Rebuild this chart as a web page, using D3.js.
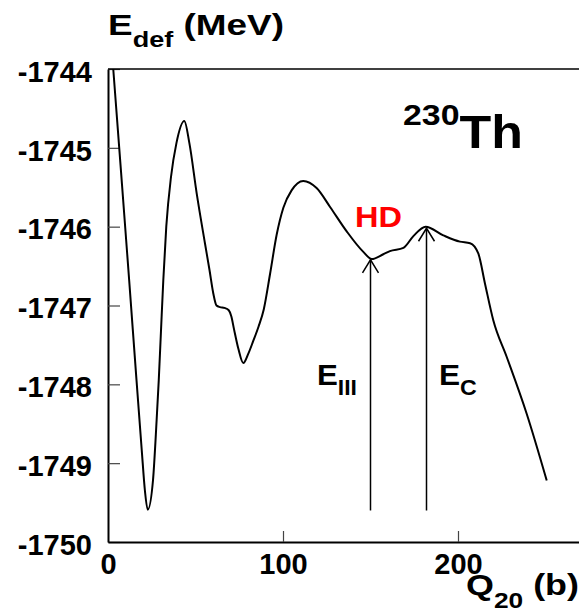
<!DOCTYPE html>
<html>
<head>
<meta charset="utf-8">
<script src="https://cdn.jsdelivr.net/npm/d3@7"></script>
<style>
  html, body { margin: 0; padding: 0; background: #fff; }
  svg { display: block; }
  text { font-family: "Liberation Sans", Arial, Helvetica, sans-serif; font-weight: bold; }
</style>
</head>
<body>
<svg id="chart" width="579" height="612"></svg>
<script>
// ---- data ----
const qValues = [3, 7.4, 12.1, 16.3, 19.3, 21.1, 22.7, 25.7, 27.8, 29.0, 30.3, 31.6, 33.3, 36.0, 39.1, 43.6,
  46.5, 50.7, 55.4, 58, 60.2, 62, 64, 66.5, 69, 70.5, 72, 74.5, 77.3, 80, 83, 86, 89, 92.6, 96.4, 100.2,
  104.9, 111.6, 119.2, 126.9, 136.4, 145.9, 150.7, 157.3, 161.1, 168.8, 174.5, 181.5, 191.6,
  201.1, 206.9, 211.6, 215.4, 220.2, 227.8, 239.2, 250.7];
const eValues = [-1744.0, -1745.29, -1746.68, -1747.95, -1748.84, -1749.35, -1749.59, -1749.22, -1748.45, -1747.95, -1747.31, -1746.68, -1746.0, -1745.37, -1744.94, -1744.66,
  -1744.94, -1745.58, -1746.21, -1746.55, -1746.85, -1747.0, -1747.02, -1747.03, -1747.06, -1747.14, -1747.3, -1747.55, -1747.73, -1747.62, -1747.45, -1747.27, -1747.05, -1746.6, -1746.1, -1745.76,
  -1745.54, -1745.42, -1745.51, -1745.75, -1746.06, -1746.32, -1746.41, -1746.35, -1746.31, -1746.27, -1746.12, -1746.0, -1746.11,
  -1746.19, -1746.21, -1746.34, -1746.72, -1747.19, -1747.65, -1748.37, -1749.22];
const yTicks = [-1750, -1749, -1748, -1747, -1746, -1745, -1744];
const xTicks = [0, 100, 200];
const arrowQ = [150, 182];
const arrowTopE = [-1746.42, -1746.02];
const arrowBottomE = -1749.6;

// ---- layout ----
const svg = d3.select("#chart");
const L = 108, R = 580.5, T = 69, B = 542;
const x = d3.scaleLinear().domain([0, 270]).range([L, R]);
const y = d3.scaleLinear().domain([-1750, -1744]).range([B, T]);

svg.append("defs").append("clipPath").attr("id", "plotclip")
  .append("rect").attr("x", L).attr("y", T).attr("width", R - L).attr("height", B - T);

// axes
const yAxis = d3.axisLeft(y).tickValues(yTicks).tickFormat(d3.format("d"))
  .tickSizeInner(-12).tickSizeOuter(0).tickPadding(16);
const gy = svg.append("g").attr("transform", `translate(${L},0)`).call(yAxis);
gy.select(".domain").attr("stroke", "#000").attr("stroke-width", 2);
gy.selectAll(".tick line").attr("stroke", "#444").attr("stroke-width", 1.2);
gy.selectAll(".tick text").attr("font-size", 29).attr("fill", "#000").attr("dy", "0.42em")
  .text(d => String(d).replace("\u2212", "-"));

const xAxis = d3.axisBottom(x).tickValues(xTicks).tickFormat(d3.format("d"))
  .tickSizeInner(-11).tickSizeOuter(0).tickPadding(11);
const gx = svg.append("g").attr("transform", `translate(0,${B})`).call(xAxis);
gx.select(".domain").attr("stroke", "#000").attr("stroke-width", 2);
gx.selectAll(".tick line").attr("stroke", "#444").attr("stroke-width", 1.2);
gx.selectAll(".tick text").attr("font-size", 29).attr("fill", "#000").attr("dy", "0.72em");
gx.selectAll(".tick").filter(d => d === 0).select("line").remove();

// top frame line
svg.append("line").attr("x1", L).attr("x2", R).attr("y1", y(-1744)).attr("y2", y(-1744))
  .attr("stroke", "#000").attr("stroke-width", 1.5);

// curve
const pts = qValues.map((q, i) => [q, eValues[i]]);
const line = d3.line().x(d => x(d[0])).y(d => y(d[1])).curve(d3.curveMonotoneX);
svg.append("path").attr("d", line(pts)).attr("clip-path", "url(#plotclip)")
  .attr("fill", "none").attr("stroke", "#000").attr("stroke-width", 2);

// arrows
arrowQ.forEach((q, i) => {
  const ax = x(q), ty = y(arrowTopE[i]), by = y(arrowBottomE);
  svg.append("line").attr("x1", ax).attr("x2", ax).attr("y1", by).attr("y2", ty)
    .attr("stroke", "#000").attr("stroke-width", 1.5);
  svg.append("path").attr("d", `M${ax - 8},${ty + 13}L${ax},${ty}L${ax + 8},${ty + 13}`)
    .attr("fill", "none").attr("stroke", "#000").attr("stroke-width", 1.5);
});

// labels: stretch horizontally so text spans [x0, x1]
function fitX(sel, x0, x1) {
  const bb = sel.node().getBBox();
  const s = (x1 - x0) / bb.width;
  sel.attr("transform", `translate(${x0 - bb.x * s},0) scale(${s},1)`);
}
function subLabel(main, sub, mainSize, subSize, subDy, extra, yp) {
  const t = svg.append("text").attr("x", 0).attr("y", yp).attr("font-size", mainSize).attr("fill", "#000");
  t.append("tspan").text(main);
  t.append("tspan").attr("font-size", subSize).attr("dy", subDy).text(sub);
  if (extra) t.append("tspan").attr("dy", -subDy).text(extra);
  return t;
}
fitX(subLabel("E", "def", 30, 22, 12, "\u00a0(MeV)", 35), 108, 284);
fitX(subLabel("Q", "20", 30, 22, 13, "\u00a0(b)", 595), 466, 579);
fitX(subLabel("E", "III", 30, 22, 10, null, 385), 317, 357);
fitX(subLabel("E", "C", 30, 22, 10, null, 385), 439, 477);

const th = svg.append("text").attr("x", 0).attr("y", 148).attr("fill", "#000");
th.append("tspan").attr("font-size", 30).attr("dy", -23).text("230");
th.append("tspan").attr("font-size", 46).attr("dy", 23).text("Th");
fitX(th, 403, 523);

const hd = svg.append("text").attr("x", 0).attr("y", 227).attr("font-size", 29).attr("fill", "#ff0000").text("HD");
fitX(hd, 355, 402);
</script>
</body>
</html>
